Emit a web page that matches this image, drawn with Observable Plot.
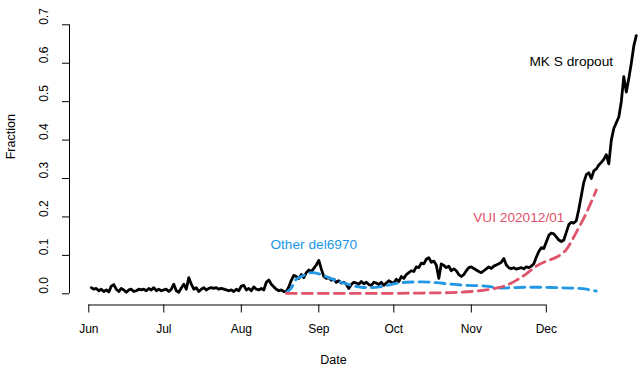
<!DOCTYPE html>
<html><head><meta charset="utf-8">
<script src="https://cdn.jsdelivr.net/npm/d3@7"></script>
<script src="https://cdn.jsdelivr.net/npm/@observablehq/plot@0.6"></script>
<style>body{margin:0;background:#fff} svg{display:block}</style>
</head><body><div id="chart"></div>
<script>
// MK S dropout fraction, daily from this start date
const mkStart = "2020-06-02";
const mkValues = [
0.016,0.012,0.014,0.008,0.012,0.006,0.01,0.005,0.02,0.024,
0.012,0.006,0.014,0.01,0.004,0.01,0.012,0.006,0.008,0.012,
0.01,0.012,0.008,0.014,0.01,0.016,0.008,0.012,
0.008,0.01,0.012,0.006,0.012,0.025,0.008,0.004,0.015,0.025,
0.012,0.042,0.025,0.012,0.016,0.006,0.012,0.016,0.01,0.014,
0.016,0.014,0.016,0.012,0.014,0.012,0.01,0.008,0.01,0.006,
0.012,0.008,0.02,0.022,0.01,0.014,0.008,0.018,0.012,0.01,
0.014,0.01,0.03,0.036,0.025,0.018,0.012,0.008,0.01,0.006,
0.005,0.018,0.035,0.048,0.045,0.04,0.05,0.042,0.055,0.062,
0.058,0.066,0.075,0.087,0.065,0.045,0.04,0.042,0.035,0.038,
0.03,0.034,0.028,0.03,0.025,0.014,0.024,0.03,0.028,0.025,
0.032,0.026,0.03,0.024,0.022,0.03,0.028,0.024,0.03,0.022,
0.028,0.034,0.03,0.028,0.038,0.032,0.045,0.04,0.05,0.055,
0.06,0.058,0.07,0.068,0.08,0.078,0.09,0.094,0.082,0.085,
0.075,0.04,0.078,0.074,0.068,0.072,0.06,0.065,0.06,0.05,
0.045,0.05,0.06,0.068,0.07,0.066,0.062,0.058,0.055,0.06,
0.065,0.07,0.066,0.072,0.075,0.078,0.082,0.092,0.075,0.068,
0.065,0.068,0.064,0.066,0.068,0.065,0.07,0.068,0.072,0.078,
0.095,0.11,0.12,0.118,0.135,0.152,0.158,0.156,0.148,0.14,
0.136,0.14,0.16,0.18,0.186,0.184,0.19,0.22,0.255,0.29,
0.31,0.315,0.3,0.32,0.325,0.335,0.342,0.35,0.362,0.338,
0.4,0.43,0.445,0.46,0.5,0.565,0.525,0.56,0.6,0.645,
0.672
];
// Other del6970 (fitted, dashed blue)
const otherDates = ["2020-08-19","2020-08-21","2020-08-23","2020-08-27","2020-08-29","2020-09-02","2020-09-05","2020-09-10","2020-09-14","2020-09-18","2020-09-22","2020-09-27","2020-10-02","2020-10-06","2020-10-12","2020-10-18","2020-10-24","2020-10-30","2020-11-05","2020-11-09","2020-11-13","2020-11-17","2020-11-23","2020-11-29","2020-12-05","2020-12-11","2020-12-17","2020-12-21"];
const otherValues = [0.003,0.015,0.038,0.05,0.055,0.05,0.042,0.03,0.022,0.017,0.016,0.02,0.027,0.03,0.031,0.029,0.025,0.022,0.021,0.018,0.015,0.016,0.017,0.017,0.016,0.015,0.012,0.007];
// VUI 202012/01 (fitted, dashed red)
const vuiDates = ["2020-08-19","2020-09-05","2020-09-25","2020-10-12","2020-10-24","2020-11-01","2020-11-07","2020-11-11","2020-11-15","2020-11-19","2020-11-23","2020-11-27","2020-12-01","2020-12-05","2020-12-09","2020-12-13","2020-12-17","2020-12-21"];
const vuiValues = [0.001,0.001,0.001,0.002,0.003,0.006,0.01,0.015,0.022,0.035,0.052,0.072,0.085,0.095,0.115,0.16,0.21,0.27];

const monthTicks = ["2020-06-01","2020-07-01","2020-08-01","2020-09-01","2020-10-01","2020-11-01","2020-12-01"];
const yTicks = [0,0.1,0.2,0.3,0.4,0.5,0.6,0.7];
const labelTexts = ["Other del6970","VUI 202012/01","MK S dropout"];
const labelDates = ["2020-08-30","2020-11-20","2020-12-11"];
const labelValues = [0.128,0.199,0.603];
const labelColors = ["#2297E6","#DF536B","#000000"];

const parse = d3.utcParse("%Y-%m-%d");
const t0 = parse(mkStart);
const mk = mkValues.map((v,i)=>({date: d3.utcDay.offset(t0, i), value: v}));
const other = otherDates.map((d,i)=>({date: parse(d), value: otherValues[i]}));
const vui = vuiDates.map((d,i)=>({date: parse(d), value: vuiValues[i]}));
const months = monthTicks.map(parse);
const labels = labelTexts.map((t,i)=>({text: t, date: parse(labelDates[i]), value: labelValues[i], color: labelColors[i]}));
const font = "'Liberation Sans', Arial, Helvetica, sans-serif";

const chart = Plot.plot({
  width: 640, height: 373,
  marginLeft: 69, marginBottom: 68.5, marginTop: 10, marginRight: 43,
  style: {fontFamily: font, fontSize: "12px", background: "#fff", color: "#000"},
  x: {type: "utc", domain: [months[0], months[6]], range: [88.3, 545.8]},
  y: {domain: [0, 0.7], range: [293.3, 24.3]},
  marks: [
    Plot.axisX({ticks: months, tickFormat: d3.utcFormat("%b"), tickSize: 8, tickPadding: 11, label: null, fontSize: 12}),
    Plot.ruleY([0], {x1: () => months[0], x2: () => months[6], dy: 11.2, stroke: "#000"}),
    Plot.axisY({ticks: yTicks, tickSize: 7, tickFormat: () => "", label: null}),
    Plot.ruleX([months[0]], {x: d => d, y1: () => 0, y2: () => 0.7, dx: -19.3, stroke: "#000"}),
    Plot.text(yTicks, {y: d => d, text: d => d.toFixed(1), frameAnchor: "left", dx: -25, rotate: -90, fontSize: 12}),
    Plot.text(["Fraction"], {frameAnchor: "left", y: () => 0.35, dx: -59, rotate: -90, fontSize: 12.5}),
    Plot.text(["Date"], {frameAnchor: "bottom", dy: 58.5, fontSize: 12.5}),
    Plot.line(mk, {x: "date", y: "value", stroke: "#000", strokeWidth: 2.8, strokeLinejoin: "round"}),
    Plot.line(other, {x: "date", y: "value", stroke: "#2297E6", strokeWidth: 2.8, strokeDasharray: "10,6", curve: "monotone-x"}),
    Plot.line(vui, {x: "date", y: "value", stroke: "#DF536B", strokeWidth: 2.8, strokeDasharray: "10,6", curve: "monotone-x"}),
    Plot.text(labels, {x: "date", y: "value", text: "text", fill: "color", fontSize: 13.7})
  ]
});
document.getElementById("chart").appendChild(chart);
</script>
</body></html>
